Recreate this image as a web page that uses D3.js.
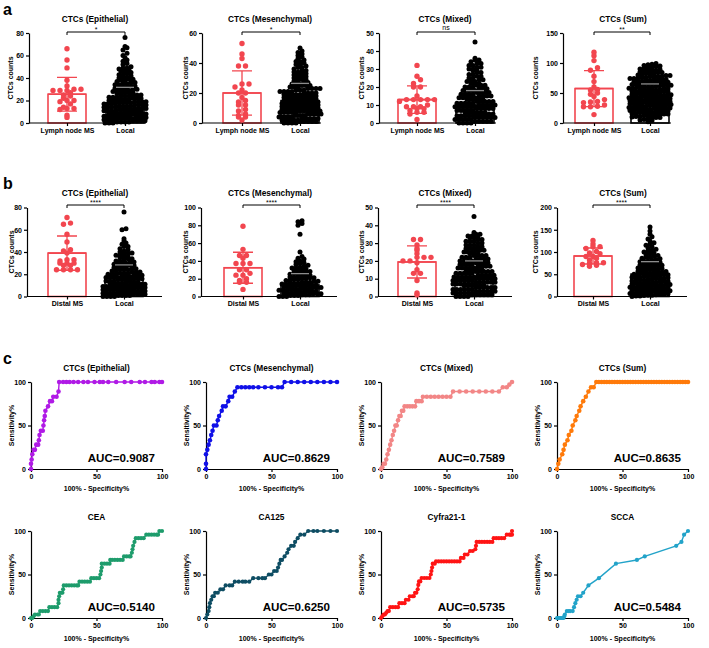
<!DOCTYPE html>
<html><head><meta charset="utf-8">
<script src="https://cdn.jsdelivr.net/npm/d3@7"></script>
<style>body{margin:0;background:#fff}svg{display:block}</style>
</head><body><svg id="c" width="709" height="648"></svg>
<script>
// ---------------- DATA ----------------
const barTitles = ["CTCs (Epithelial)", "CTCs (Mesenchymal)", "CTCs (Mixed)", "CTCs (Sum)"];
const catsA = ["Lymph node MS", "Local"];
const catsB = ["Distal MS", "Local"];
const yMaxA = [80, 60, 50, 150], yStepA = [20, 20, 10, 50];
const yMaxB = [80, 100, 50, 200], yStepB = [20, 20, 10, 50];
const sigA = ["*", "*", "ns", "**"];
const sigB = ["****", "****", "****", "****"];
const meanMsA = [25.6, 20, 13, 57.4], sdMsA = [15, 14.7, 7.6, 30];
const meanLocA = [18, 14.9, 10, 43.1], sdLocA = [13.7, 11.5, 8, 22];
const meanMsB = [39, 32.3, 19.4, 91], sdMsB = [15.4, 17.4, 9, 18];
const meanLocB = [16.4, 13, 10.8, 50.3], sdLocB = [12, 12.7, 9.2, 28];

// Row a – Lymph node MS
const lnEpi = [66,56,49,38,33,30,30,29,29,29,27,25,24,22,20,20,19,17,14,13,13,12,7,5];
const lnMes = [53,46,43,38,38,26,26,24,22,20,20,17,15,14,12,12,9,8,6,5,4,4,2];
const lnMix = [32,26,24,22,20,20,15,13,13,13,13,13,12,10,9,9,9,8,8,7,6,6,5,2];
const lnSum = [118,112,104,92,88,78,69,60,56,55,50,48,44,39,36,35,34,30,28,27,27,14];
// Row a – Local
const locEpiA = [0,0,0,1,1,1,1,2,2,2,2,3,3,3,3,4,4,4,4,4,5,5,5,5,6,6,6,6,6,7,7,7,7,8,8,8,8,8,
9,9,9,9,10,10,10,10,10,11,11,11,11,12,12,12,12,13,13,13,13,14,14,14,14,15,15,15,15,
16,16,16,16,17,17,17,17,18,18,18,18,19,19,19,19,20,20,20,21,21,21,22,22,22,23,23,23,24,24,24,25,25,25,
26,26,27,27,27,28,28,29,29,29,30,30,31,31,32,32,33,33,34,34,35,35,36,36,
37,38,38,39,39,40,41,41,42,43,43,44,45,46,46,47,48,49,49,50,52,53,55,56,58,60,62,65,67,68,76];
const locMesA = [0,0,0,0,1,1,1,1,1,2,2,2,2,2,3,3,3,3,3,4,4,4,4,4,4,5,5,5,5,5,
6,6,6,6,6,6,7,7,7,7,7,8,8,8,8,8,8,9,9,9,9,9,10,10,10,10,10,11,11,11,11,11,
12,12,12,12,12,13,13,13,13,13,14,14,14,14,14,15,15,15,15,15,16,16,16,16,17,17,17,17,17,
18,18,18,18,19,19,19,19,19,20,20,20,20,21,21,21,21,22,22,22,23,23,23,23,
24,24,24,25,25,25,26,26,26,27,27,28,28,29,29,30,30,31,31,32,32,33,33,34,34,35,35,
36,37,37,38,39,39,40,41,41,42,43,44,45,46,47,48,50];
const locMixA = [0,0,0,0,1,1,1,1,1,2,2,2,2,2,3,3,3,3,3,3,4,4,4,4,4,5,5,5,5,5,6,6,6,6,6,6,7,7,7,7,7,
8,8,8,8,8,9,9,9,9,9,9,10,10,10,10,10,11,11,11,11,11,12,12,12,12,12,13,13,13,13,13,14,14,14,14,14,
15,15,15,15,16,16,16,16,17,17,17,17,18,18,18,18,19,19,19,20,20,20,21,21,21,22,22,22,23,23,23,
24,24,25,25,26,26,27,27,28,28,29,29,30,30,31,31,32,32,33,33,34,35,35,36,45];
const locSumA = [2,4,5,6,7,8,9,9,10,11,11,12,13,13,14,14,15,15,16,16,17,17,18,18,19,19,
20,20,21,21,22,22,23,23,24,24,24,25,25,26,26,27,27,28,28,29,29,29,30,30,31,31,32,32,33,33,34,34,34,
35,35,36,36,37,37,38,38,39,39,39,40,40,41,41,42,42,43,43,44,44,44,45,45,46,46,47,47,48,48,49,49,49,
50,50,51,52,52,53,53,54,54,54,55,55,56,57,57,58,58,59,59,59,60,60,61,62,62,63,63,64,64,64,
65,66,66,67,67,68,68,69,69,70,71,71,72,72,73,73,74,74,75,76,76,77,77,78,78,79,79,
80,81,82,82,83,84,84,85,86,87,88,88,89,90,91,92,93,94,95,96,97,98,99];
// Row b – Distal MS
const dmEpi = [71,66,65,56,49,42,41,39,33,33,32,30,30,30,28,28,24,24,24,24];
const dmMes = [79,53,46,46,43,37,37,37,30,30,26,24,24,20,18,16,16,8];
const dmMix = [32,32,29,27,26,24,22,22,22,20,20,19,15,13,13,9,2,1];
const dmSum = [126,118,112,112,108,101,98,96,90,90,86,82,76,76,74,72,70,68];
// Row b – Local
const locEpiB = [0,0,0,0,1,1,1,1,2,2,2,2,3,3,3,3,3,4,4,4,4,5,5,5,5,6,6,6,6,6,7,7,7,7,8,8,8,8,9,9,9,9,9,
10,10,10,10,11,11,11,11,12,12,12,12,13,13,13,13,14,14,14,15,15,15,15,16,16,16,17,17,17,17,
18,18,18,19,19,19,20,20,20,21,21,21,22,22,22,23,23,24,24,24,25,25,26,26,27,27,28,28,29,29,
30,30,31,31,32,32,33,34,34,35,35,36,37,37,38,39,39,40,41,42,43,45,45,47,48,50,52,60,61,76];
const locMesB = [0,0,0,1,1,1,2,2,2,3,3,3,4,4,4,5,5,5,6,6,6,7,7,7,8,8,8,9,9,9,10,10,10,11,11,11,12,12,12,13,13,13,
14,14,15,15,15,16,16,16,17,17,18,18,19,19,20,20,21,21,22,22,23,23,24,24,25,26,26,27,27,28,29,29,
30,31,32,32,33,34,35,36,37,38,39,40,42,43,45,50,70,80,82,84,85];
const locMixB = [0,0,0,0,1,1,1,1,1,1,2,2,2,2,2,2,3,3,3,3,3,3,4,4,4,4,4,4,5,5,5,5,5,5,6,6,6,6,6,6,
7,7,7,7,7,7,8,8,8,8,8,8,9,9,9,9,9,9,10,10,10,10,10,10,11,11,11,11,11,11,
12,12,12,12,12,13,13,13,13,13,14,14,14,14,14,15,15,15,15,15,16,16,16,16,16,17,17,17,17,18,18,18,18,19,19,19,19,
20,20,20,20,21,21,21,21,22,22,22,23,23,23,23,24,24,24,25,25,25,26,26,26,27,27,27,
28,28,29,29,29,30,30,31,31,31,32,32,33,33,33,34,34,35,35,36,45];
const locSumB = [0,1,1,2,3,3,4,5,5,6,7,7,8,9,9,10,11,11,12,13,13,14,15,15,16,17,17,18,19,19,20,21,21,22,23,23,24,25,25,26,27,27,28,29,29,
30,31,31,32,33,34,34,35,36,37,37,38,39,40,40,41,42,43,43,44,45,46,46,47,48,49,49,50,51,52,52,53,54,55,55,56,57,58,59,
60,61,62,63,64,65,66,67,68,69,70,71,72,73,74,75,77,78,79,80,82,83,85,86,88,89,91,92,94,
96,98,100,102,104,106,109,112,115,118,121,125,129,134,140,147,156];

const msA = [lnEpi, lnMes, lnMix, lnSum], locA = [locEpiA, locMesA, locMixA, locSumA];
const msB = [dmEpi, dmMes, dmMix, dmSum], locB = [locEpiB, locMesB, locMixB, locSumB];

// ROC curves: [100% - specificity%, sensitivity%]
const rocTitles = ["CTCs (Epithelial)", "CTCs (Mesenchymal)", "CTCs (Mixed)", "CTCs (Sum)", "CEA", "CA125", "Cyfra21-1", "SCCA"];
const aucLabels = ["AUC=0.9087", "AUC=0.8629", "AUC=0.7589", "AUC=0.8635", "AUC=0.5140", "AUC=0.6250", "AUC=0.5735", "AUC=0.5484"];
const rocEpi = [[0,0],[0,6],[0.5,11],[1,17],[2,22],[3,22],[4,28],[5.5,28],[6,33],[6.5,39],[7.5,44],[9,44],[9.5,50],[10,56],[10.5,61],[11,67],[13,72],[14.5,78],[16,78],[17,83],[19.5,83],[21,89],[21.5,100],[24.5,100],[27,100],[29.5,100],[32.5,100],[36,100],[40,100],[43.5,100],[48.5,100],[52.5,100],[55,100],[59,100],[65,100],[71.5,100],[76.5,100],[83,100],[87,100],[92,100],[94.5,100],[98,100],[100,100]];
const rocMes = [[0,0],[0,6],[0,17],[1,22],[2,28],[3,33],[4,39],[5,44],[6,50],[8,50],[9,56],[10,61],[12,67],[13,72],[15,72],[17,78],[18,83],[20,83],[22,89],[24,94],[27,94],[30,94],[33,94],[36,94],[40,94],[45,94],[50,94],[55,94],[58,94],[60,100],[65,100],[70,100],[75,100],[80,100],[85,100],[90,100],[95,100],[100,100]];
const rocMix = [[0,0],[1,2],[2,6],[3,6],[4,11],[5,17],[6,22],[7,28],[8,33],[9,39],[10,44],[11,50],[12,50],[13,56],[14,61],[15,61],[16,67],[17,67],[18,72],[20,72],[22,72],[24,72],[26,72],[27,78],[29,78],[31,78],[32,83],[35,83],[38,83],[41,83],[44,83],[47,83],[50,83],[53,83],[55,89],[60,89],[65,89],[70,89],[75,89],[80,89],[85,89],[90,89],[93,94],[96,94],[98,97],[100,100]];
const rocSum = [[0,0],[1,6],[2,11],[4,17],[5,22],[6,28],[8,33],[9,39],[11,44],[12,50],[14,56],[15,61],[17,67],[18,72],[20,78],[22,83],[24,89],[26,94],[28,94],[30,100],[32,100],[34,100],[36,100],[38,100],[40,100],[42,100],[44,100],[46,100],[48,100],[50,100],[52,100],[54,100],[56,100],[58,100],[60,100],[62,100],[64,100],[66,100],[68,100],[70,100],[72,100],[74,100],[76,100],[78,100],[80,100],[82,100],[84,100],[86,100],[88,100],[90,100],[92,100],[94,100],[96,100],[98,100],[100,100]];
const rocCEA = [[0,0],[1,0],[2,2],[3,4],[5,4],[6,4],[7,8],[9,8],[11,8],[13,8],[14,12.5],[16,12.5],[18,12.5],[20,12.5],[21,17],[21,21],[21.5,25],[22,29],[23,29],[24,29],[24.5,33],[25,37.5],[27,37.5],[29,37.5],[31,37.5],[33,37.5],[35,37.5],[36,37.5],[37,41.7],[39,41.7],[41,41.7],[43,41.7],[45,41.7],[46,45.8],[48,45.8],[50,45.8],[52,45.8],[53,50],[53.5,54],[54,58],[54,62.5],[56,62.5],[58,62.5],[60,62.5],[60.5,66.7],[62,66.7],[64,66.7],[66,66.7],[68,66.7],[70,66.7],[71,70.8],[73,70.8],[75,70.8],[76,70.8],[77,75],[77.5,79],[78,83],[79,87.5],[80,91.7],[82,91.7],[84,91.7],[86,91.7],[88,95.8],[90,95.8],[92,95.8],[94,95.8],[96,95.8],[97,95.8],[98,100],[100,100]];
const rocCA125 = [[0,0],[1,4],[2,8],[2.5,12.5],[3,17],[4,21],[5,25],[6,25],[7,29],[9,29],[11,33],[13,33],[15,37.5],[18,37.5],[20,37.5],[22,41.7],[25,41.7],[28,41.7],[30,41.7],[33,41.7],[36,45.8],[40,45.8],[43,45.8],[45,45.8],[48,50],[50,50],[52,54],[54,54],[55,58],[56,62.5],[57,66.7],[58,66.7],[60,70.8],[62,75],[63,79],[65,83],[67,83],[68,87.5],[70,91.7],[72,95.8],[75,95.8],[78,100],[82,100],[85,100],[90,100],[95,100],[100,100]];
const rocCyfra = [[0,0],[1,2],[2,4],[3,4],[4,6],[5,8],[6,8],[7,12.5],[9,12.5],[11,12.5],[13,12.5],[14,17],[16,17],[18,17],[19,21],[21,21],[22,25],[24,25],[25,25],[26,29],[27,29],[28,33],[28.5,38],[29,42],[30,42],[31,46],[33,46],[35,46],[37,46],[38,50],[38.5,54],[39,58],[39.5,62.5],[41,62.5],[42,65],[44,65],[46,65],[48,65],[50,65],[52,65],[54,65],[56,65],[58,65],[60,65],[61,69],[63,69],[64,73],[66,73],[68,77],[70,77],[72,79],[72.5,83],[73,87.5],[75,87.5],[77,87.5],[79,87.5],[81,87.5],[83,87.5],[85,87.5],[86,91.7],[88,91.7],[90,91.7],[92,91.7],[94,91.7],[96,95.8],[98,95.8],[99,95.8],[100,95.8],[100,100]];
const rocSCCA = [[0,0],[1,0],[2,0],[3,0],[4,0],[5,0],[5.5,2],[6,4],[7.5,8],[9,8],[10,8],[12,8],[13,12.5],[14,17],[15,21],[16,25],[18,25],[20,29],[24,37.5],[32,45.8],[45,62.5],[61,66.7],[67,70.8],[91,83],[95,87.5],[97,95.8],[100,100]];
const rocData = [rocEpi, rocMes, rocMix, rocSum, rocCEA, rocCA125, rocCyfra, rocSCCA];
const rocTicks = [0, 50, 100];

// ---------------- STYLE / LAYOUT ----------------
const FONT = "'Liberation Sans', Arial, Helvetica, sans-serif";
const RED = "#F2464F";
const rocColors = ["#B01AE6", "#1010E8", "#F28686", "#FF7A0A", "#1E9C6C", "#0E4D63", "#FF1414", "#22A3C9"];
const layA = {axisX:[29,202,379,563], c1:[67,242,417,594], c2:[125,300,475,650], axisEnd:[146,321,496,671],
  yTop:33, yBot:123, titleX:[95,270,445,623], titleY:22, yTitleX:[13,188,364,538], bracketY:32};
const layB = {axisX:[27,201,378,557], c1:[67,243,417,593], c2:[124,300,474,650], axisEnd:[162,337,512,687],
  yTop:207.5, yBot:296.5, titleX:[95,270,445,623], titleY:196, yTitleX:[14,188,364,538], bracketY:205};
const rocLay = {axisX:[31,206,381,557], w:131, yTop:[382,531], yBot:[469,618], titleY:[371,520], aucY:[462,611], xTitleY:[491,641]};

const svg = d3.select("#c");
svg.append("rect").attr("width",709).attr("height",648).attr("fill","#fff");

function txt(x, y, s, size, opt={}) {
  return svg.append("text").attr("x", x).attr("y", y).text(s)
    .attr("font-family", FONT).attr("font-size", size)
    .attr("font-weight", opt.weight || "bold")
    .attr("text-anchor", opt.anchor || "middle")
    .attr("fill", opt.fill || "#000");
}
function styleAxis(g, fs) {
  g.attr("font-family", FONT).attr("font-size", fs).attr("font-weight", "bold");
  g.selectAll("path,line").attr("stroke", "#000").attr("stroke-width", 1.2);
  g.selectAll("text").attr("fill", "#000");
}
function swarm(vals, y, cx, binH, sp, maxW) {
  const y0 = y.range()[0];
  const pts = vals.map(v => ({v, py: y(v)}));
  const bins = d3.groups(pts, p => Math.floor((y0 - p.py + 0.5) / binH));
  const out = [];
  bins.forEach(([k, arr]) => {
    arr.sort((a, b) => a.v - b.v);
    const n = arr.length, s = n > 1 ? Math.min(sp, maxW / (n - 1)) : 0;
    arr.forEach((p, i) => out.push({x: cx + (i - (n - 1) / 2) * s, y: p.py}));
  });
  return out;
}

// panel letters
txt(3, 15, "a", 16, {anchor:"start"});
txt(3, 189, "b", 16, {anchor:"start"});
txt(3, 364, "c", 16, {anchor:"start"});

function barPanel(row, col) {
  const L = row === 0 ? layA : layB;
  const cats = row === 0 ? catsA : catsB;
  const yMax = row === 0 ? yMaxA[col] : yMaxB[col];
  const yStep = row === 0 ? yStepA[col] : yStepB[col];
  const ms = row === 0 ? msA[col] : msB[col];
  const loc = row === 0 ? locA[col] : locB[col];
  const means = row === 0 ? [meanMsA[col], meanLocA[col]] : [meanMsB[col], meanLocB[col]];
  const sds = row === 0 ? [sdMsA[col], sdLocA[col]] : [sdMsB[col], sdLocB[col]];
  const sig = row === 0 ? sigA[col] : sigB[col];
  const y = d3.scaleLinear().domain([0, yMax]).range([L.yBot, L.yTop]);
  const x = d3.scalePoint().domain(cats).range([L.c1[col], L.c2[col]]);
  const bw = 38;
  const g = svg.append("g");
  const colors = [RED, "#000"];
  cats.forEach((c, i) => {
    g.append("rect").attr("x", x(c) - bw / 2).attr("y", y(means[i])).attr("width", bw)
      .attr("height", y(0) - y(means[i])).attr("fill", "#fff").attr("stroke", colors[i]).attr("stroke-width", 1.6);
  });
  const ay = g.append("g").attr("transform", `translate(${L.axisX[col]},0)`)
    .call(d3.axisLeft(y).tickValues(d3.range(0, yMax + 0.1, yStep)).tickSize(3).tickSizeOuter(0).tickPadding(2));
  styleAxis(ay, 7);
  g.append("line").attr("x1", L.axisX[col]).attr("x2", L.axisEnd[col]).attr("y1", y(0)).attr("y2", y(0))
    .attr("stroke", "#000").attr("stroke-width", 1.2);
  const axb = g.append("g").attr("transform", `translate(0,${y(0)})`)
    .call(d3.axisBottom(x).tickSize(3).tickPadding(2));
  axb.select(".domain").remove();
  styleAxis(axb, 7);
  const redPts = swarm(ms, y, x(cats[0]), 4, 7, 42);
  g.selectAll(null).data(redPts).join("circle").attr("cx", d => d.x).attr("cy", d => d.y).attr("r", 2.7).attr("fill", RED);
  const blkPts = swarm(loc, y, x(cats[1]), 3.2, 4, 42);
  g.selectAll(null).data(blkPts).join("circle").attr("cx", d => d.x).attr("cy", d => d.y).attr("r", 2.5).attr("fill", "#000");
  // error bars (Local: only the upper cap shows over the dots)
  cats.forEach((c, i) => {
    const cx = x(c), hi = y(means[i] + sds[i]), lo = y(Math.max(0, means[i] - sds[i])), m = y(means[i]);
    const d = i === 0 ? `M${cx},${lo}V${hi}M${cx - 10},${hi}H${cx + 10}M${cx - 10},${lo}H${cx + 10}`
                      : `M${cx - 9},${hi}H${cx + 9}`;
    g.append("path").attr("d", d).attr("stroke", i === 0 ? RED : "#8c8c8c").attr("stroke-width", 1.3).attr("fill", "none");
    if (i === 0) g.append("line").attr("x1", cx - bw / 2).attr("x2", cx + bw / 2).attr("y1", m).attr("y2", m)
      .attr("stroke", RED).attr("stroke-width", 1.6);
  });
  const by = L.bracketY, x1 = x(cats[0]), x2 = x(cats[1]);
  g.append("path").attr("d", `M${x1},${by + 3}V${by}H${x2}V${by + 3}`).attr("stroke", "#000").attr("stroke-width", 1).attr("fill", "none");
  txt((x1 + x2) / 2, by - (sig === "ns" ? 2 : 0.5), sig, 7, {weight: "normal"});
  txt(L.titleX[col], L.titleY, barTitles[col], 8.3);
  txt(0, 0, "CTCs counts", 7).attr("transform", `translate(${L.yTitleX[col]},${(L.yTop + L.yBot) / 2}) rotate(-90)`);
}

function rocPanel(i) {
  const row = i < 4 ? 0 : 1, col = i % 4;
  const ax = rocLay.axisX[col];
  const x = d3.scaleLinear().domain([0, 100]).range([ax, ax + rocLay.w]);
  const y = d3.scaleLinear().domain([0, 100]).range([rocLay.yBot[row], rocLay.yTop[row]]);
  const g = svg.append("g");
  const axl = g.append("g").attr("transform", `translate(${ax},0)`)
    .call(d3.axisLeft(y).tickValues(rocTicks).tickSize(3).tickSizeOuter(0).tickPadding(2));
  styleAxis(axl, 7);
  const axb = g.append("g").attr("transform", `translate(0,${y(0)})`)
    .call(d3.axisBottom(x).tickValues(rocTicks).tickSize(3).tickSizeOuter(0).tickPadding(2));
  styleAxis(axb, 7);
  const data = rocData[i], color = rocColors[i];
  g.append("path").datum(data).attr("d", d3.line().x(d => x(d[0])).y(d => y(d[1])))
    .attr("fill", "none").attr("stroke", color).attr("stroke-width", 1.4);
  g.selectAll(null).data(data).join("circle").attr("cx", d => x(d[0])).attr("cy", d => y(d[1]))
    .attr("r", row === 0 ? 2.3 : 2.1).attr("fill", color);
  txt(ax + rocLay.w / 2, rocLay.titleY[row], rocTitles[i], 8.3);
  txt(ax + rocLay.w / 2, rocLay.xTitleY[row], "100% - Specificity%", 7);
  txt(0, 0, "Sensitivity%", 7).attr("transform", `translate(${ax - 17},${(rocLay.yTop[row] + rocLay.yBot[row]) / 2}) rotate(-90)`);
  txt(ax + rocLay.w - 7, rocLay.aucY[row], aucLabels[i], 11.6, {anchor: "end"});
}

for (let c = 0; c < 4; c++) { barPanel(0, c); barPanel(1, c); }
for (let i = 0; i < 8; i++) rocPanel(i);
</script></body></html>
